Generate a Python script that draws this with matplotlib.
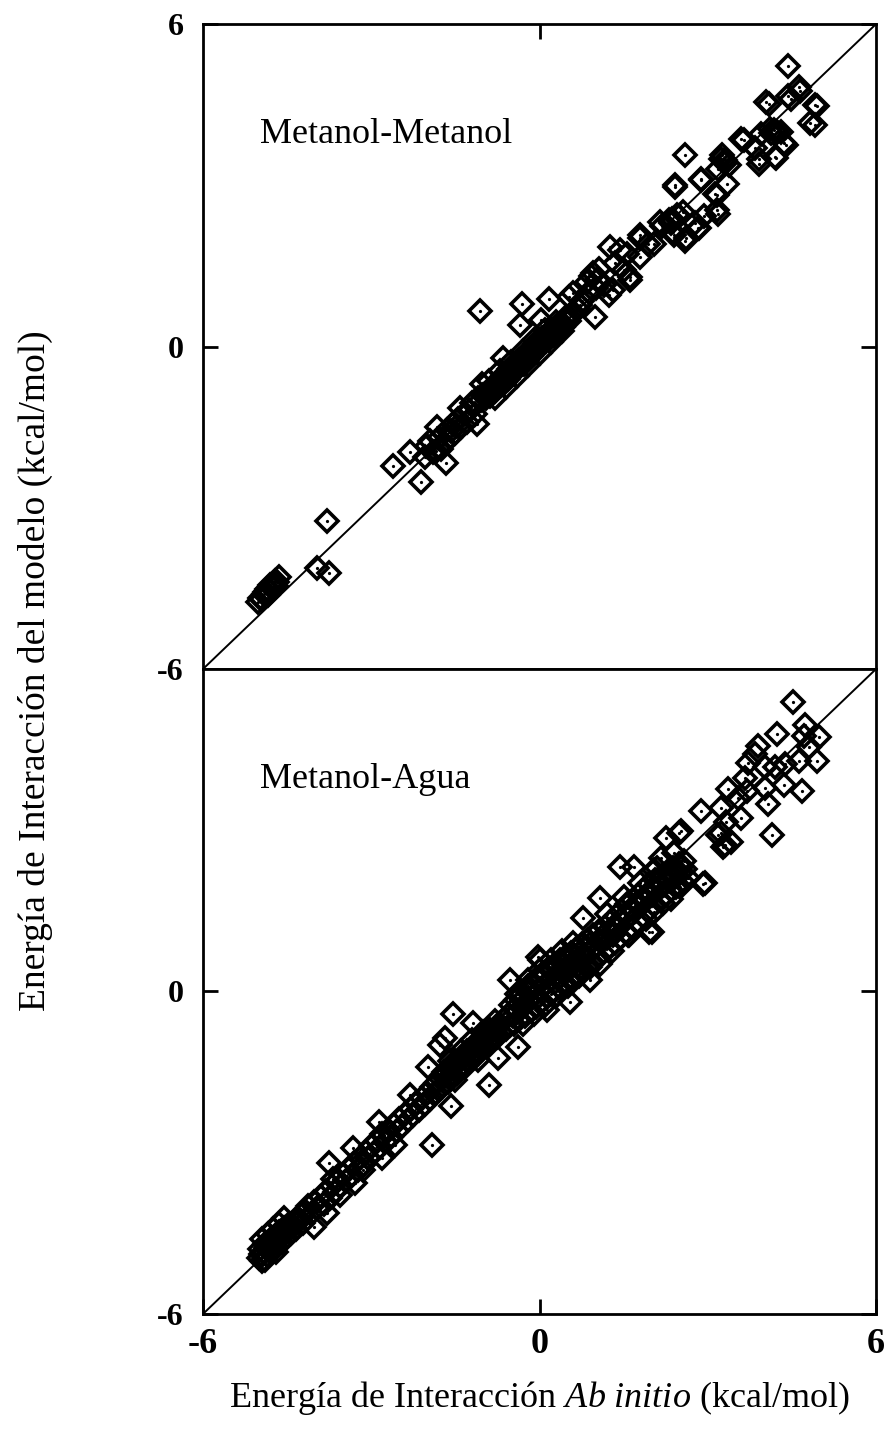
import numpy as np
import matplotlib
matplotlib.use("Agg")
import matplotlib.pyplot as plt

plt.rcParams['font.family'] = ['Liberation Serif', 'DejaVu Serif']
plt.rcParams['mathtext.fontset'] = 'custom'
plt.rcParams['mathtext.rm'] = 'Liberation Serif'
plt.rcParams['mathtext.it'] = 'Liberation Serif:italic'

# Metanol-Metanol: (ab initio, modelo) en kcal/mol
mm_pts = [
    (-1.07, 0.66), (-0.31, 0.79), (-0.35, 0.40), (0.16, 0.88), (0.02, 0.50), (0.52, 0.92),
    (-0.65, -0.22), (-1.03, -0.69), (-1.42, -1.14), (-1.82, -1.50), (-1.12, -1.45),
    (-2.31, -1.97), (-2.61, -2.22), (-2.12, -2.53), (-1.67, -2.17), (-1.90, -1.97),
    (-3.79, -3.25), (-3.97, -4.13), (-3.75, -4.22),
    (-4.64, -4.29), (-4.72, -4.36), (-4.80, -4.44), (-4.86, -4.52), (-4.92, -4.60),
    (-5.02, -4.76), (-4.95, -4.70), (-4.70, -4.45), (-4.85, -4.62), (-4.76, -4.48),
    (-4.68, -4.38), (-4.90, -4.56), (-4.98, -4.68),
    (-2.00, -1.85), (-1.95, -1.75), (-1.80, -1.70), (-1.75, -1.90), (-1.65, -1.55),
    (-1.60, -1.70), (-1.55, -1.45), (-1.50, -1.60), (-1.45, -1.35), (-1.40, -1.50),
    (-1.35, -1.25), (-1.30, -1.40), (-1.25, -1.20), (-1.20, -1.05), (-1.15, -1.25),
    (-1.85, -1.95), (-1.70, -1.80), (-2.05, -2.05), (-1.58, -1.58), (-1.48, -1.48),
    (-1.10, -0.95), (-1.05, -1.00), (-1.00, -0.90), (-0.95, -0.95), (-0.90, -0.80),
    (-0.88, -0.92), (-0.85, -0.75), (-0.80, -0.82), (-0.78, -0.68), (-0.75, -0.78),
    (-0.70, -0.62), (-0.68, -0.72), (-0.65, -0.55), (-0.62, -0.66), (-0.60, -0.50),
    (-0.56, -0.60), (-0.55, -0.42), (-0.50, -0.52), (-0.48, -0.38), (-0.45, -0.46),
    (-0.42, -0.30), (-0.40, -0.42), (-0.36, -0.25), (-0.35, -0.36), (-0.30, -0.20),
    (-0.28, -0.32), (-0.25, -0.15), (-0.22, -0.26), (-0.20, -0.08), (-0.16, -0.18),
    (-0.14, -0.02), (-0.10, -0.12), (-0.08, 0.05), (-0.05, -0.04), (-0.02, 0.10),
    (0.00, 0.02), (0.04, 0.15), (0.06, 0.06), (0.10, 0.20), (0.12, 0.10), (0.16, 0.25),
    (0.18, 0.16), (0.22, 0.30), (0.25, 0.22), (0.30, 0.36), (0.32, 0.28), (0.38, 0.42),
    (0.42, 0.36), (0.46, 0.50), (0.52, 0.48), (0.56, 0.60), (0.62, 0.62), (0.68, 0.70),
    (-0.92, -0.86), (-0.82, -0.74), (-0.72, -0.66), (-0.62, -0.58), (-0.52, -0.46),
    (-0.42, -0.36), (-0.32, -0.26), (-0.22, -0.16), (-0.12, -0.06), (-0.02, 0.04),
    (0.08, 0.14), (0.20, 0.24), (0.34, 0.34), (0.48, 0.54),
    (-0.90, -0.65), (-0.70, -0.45), (-0.50, -0.28), (-0.30, -0.08), (-0.10, 0.12),
    (0.10, 0.30), (0.30, 0.46), (-0.80, -0.95), (-0.60, -0.75), (-0.40, -0.55),
    (-0.20, -0.35), (0.00, -0.12), (0.20, 0.08), (0.40, 0.28),
    (0.60, 0.99), (0.99, 0.55), (1.02, 1.24), (0.85, 1.20), (0.92, 1.32), (1.00, 1.08),
    (0.88, 1.02), (1.06, 1.45), (0.76, 0.85), (1.24, 0.96), (1.31, 1.05), (1.26, 1.86),
    (1.44, 1.80), (1.61, 1.30), (1.50, 1.42), (1.56, 1.73), (1.62, 1.23), (0.96, 1.37),
    (1.15, 1.15), (1.35, 1.55), (0.72, 0.78),
    (1.79, 2.07), (1.79, 1.67), (1.80, 2.02), (1.93, 1.91), (2.04, 1.91), (2.15, 2.32),
    (2.19, 2.24), (2.34, 2.30), (2.40, 2.08), (2.49, 2.43), (2.45, 2.45), (2.38, 2.14),
    (2.36, 2.37), (2.60, 1.96), (2.62, 2.01), (2.84, 2.20), (2.77, 2.29), (2.82, 2.21),
    (2.94, 2.43), (3.16, 2.54), (3.19, 2.46), (2.42, 3.00), (2.41, 2.96), (2.60, 3.56),
    (2.88, 3.12), (2.88, 3.09), (3.12, 2.83), (3.16, 2.81), (3.34, 3.03), (3.23, 3.49),
    (3.25, 3.56), (3.37, 3.37), (3.19, 3.31), (3.31, 3.47), (3.30, 3.42), (2.55, 2.50),
    (2.30, 2.35),
    (3.59, 3.87), (3.64, 3.84), (3.85, 3.69), (3.91, 3.40), (3.92, 3.49), (3.95, 3.95),
    (4.03, 4.55), (4.09, 4.51), (4.11, 4.04), (4.12, 3.97), (4.19, 3.53), (4.21, 3.50),
    (4.24, 4.00), (4.35, 3.78), (4.39, 3.75), (4.43, 5.22), (4.49, 4.60), (4.43, 4.66),
    (4.63, 4.83), (4.65, 4.76), (4.91, 4.49), (4.94, 4.47), (4.82, 4.16), (4.92, 4.13),
    (4.30, 4.00), (4.18, 4.02),
]

# Metanol-Agua: banda densa a lo largo de la diagonal
ma_band = [
    (-5.00, -4.95), (-4.98, -4.80), (-4.95, -5.02), (-4.92, -4.85), (-4.90, -4.70),
    (-4.86, -4.90), (-4.84, -4.75), (-4.80, -4.62), (-4.78, -4.84), (-4.75, -4.70),
    (-4.72, -4.55), (-4.70, -4.76), (-4.66, -4.60), (-4.64, -4.48), (-4.60, -4.66),
    (-4.58, -4.52), (-4.55, -4.40), (-4.52, -4.58), (-4.50, -4.45), (-4.46, -4.32),
    (-4.44, -4.50), (-4.40, -4.36), (-4.36, -4.25), (-4.34, -4.42), (-4.30, -4.28),
    (-4.26, -4.15), (-4.22, -4.30), (-4.18, -4.08),
    (-4.96, -4.88), (-4.88, -4.78), (-4.82, -4.70), (-4.74, -4.62), (-4.68, -4.66),
    (-4.62, -4.55), (-4.56, -4.48), (-4.48, -4.40), (-4.42, -4.34),
    (-4.95, -4.60), (-4.85, -4.52), (-4.75, -4.42), (-4.65, -4.32), (-4.55, -4.22),
    (-4.90, -5.00), (-4.70, -4.85),
    (-4.12, -4.00), (-4.08, -4.14), (-4.02, -3.92), (-3.96, -4.02), (-3.90, -3.82),
    (-3.85, -3.95), (-3.80, -3.72), (-3.74, -3.84), (-3.70, -3.62), (-3.64, -3.74),
    (-3.60, -3.50), (-3.55, -3.62), (-3.50, -3.42), (-3.45, -3.52), (-3.40, -3.30),
    (-3.35, -3.42), (-3.30, -3.20), (-3.24, -3.32), (-3.20, -3.10), (-3.14, -3.22),
    (-3.10, -2.98), (-3.05, -3.10), (-3.00, -2.88), (-2.95, -3.00), (-2.90, -2.78),
    (-2.84, -2.90), (-2.80, -2.66), (-2.75, -2.80), (-2.70, -2.58), (-2.64, -2.70),
    (-2.60, -2.48), (-2.55, -2.60), (-2.50, -2.38), (-2.45, -2.50), (-2.40, -2.28),
    (-2.35, -2.40), (-2.30, -2.18), (-2.25, -2.30), (-2.20, -2.08), (-2.15, -2.20),
    (-2.10, -1.98), (-2.05, -2.10),
    (-2.00, -1.88), (-1.96, -2.00), (-1.92, -1.78), (-1.88, -1.90), (-1.84, -1.70),
    (-1.80, -1.84), (-1.76, -1.62), (-1.72, -1.76), (-1.68, -1.55), (-1.64, -1.68),
    (-1.60, -1.45), (-1.56, -1.60), (-1.52, -1.38), (-1.48, -1.52), (-1.44, -1.30),
    (-1.40, -1.44), (-1.36, -1.22), (-1.32, -1.38), (-1.28, -1.15), (-1.24, -1.30),
    (-1.20, -1.05), (-1.16, -1.22), (-1.12, -0.98), (-1.08, -1.14), (-1.04, -0.90),
    (-1.00, -1.06), (-0.96, -0.84), (-0.92, -0.98), (-0.88, -0.76), (-0.84, -0.92),
    (-0.80, -0.68), (-0.76, -0.84), (-0.72, -0.60), (-0.68, -0.76), (-0.64, -0.52),
    (-0.60, -0.70), (-0.56, -0.45), (-0.52, -0.62),
    (-1.70, -1.50), (-1.50, -1.30), (-1.30, -1.10), (-1.10, -0.92), (-0.90, -0.70),
    (-1.62, -1.60), (-1.42, -1.40), (-1.22, -1.20), (-1.02, -1.00), (-0.82, -0.80),
    (-1.60, -1.30), (-1.40, -1.10), (-1.20, -0.90), (-1.00, -0.75), (-0.80, -0.55),
    (-1.50, -1.65), (-1.10, -1.28),
    (-0.50, -0.25), (-0.48, -0.45), (-0.45, -0.60), (-0.42, -0.15), (-0.40, -0.38),
    (-0.36, -0.52), (-0.34, -0.08), (-0.30, -0.28), (-0.26, -0.45), (-0.24, 0.02),
    (-0.20, -0.18), (-0.16, -0.36), (-0.14, 0.12), (-0.10, -0.08), (-0.06, -0.28),
    (-0.04, 0.25), (0.00, 0.05), (0.04, -0.18), (0.06, 0.35), (0.10, 0.12), (0.14, -0.10),
    (0.16, 0.42), (0.20, 0.22), (0.24, 0.00), (0.26, 0.50), (0.30, 0.30), (0.34, 0.08),
    (0.36, 0.58), (0.40, 0.38), (0.44, 0.15), (0.46, 0.65), (0.50, 0.45), (0.54, 0.22),
    (0.56, 0.72), (0.60, 0.52), (0.64, 0.30), (0.66, 0.80), (0.70, 0.60), (0.74, 0.38),
    (0.76, 0.88), (0.80, 0.68), (0.84, 0.46), (0.86, 0.96), (0.90, 0.76), (0.94, 0.55),
    (0.96, 1.05), (1.00, 0.85), (0.20, -0.05), (-0.20, 0.10),
    (-0.44, -0.30), (-0.32, -0.16), (-0.18, -0.02), (-0.08, 0.12), (0.02, 0.24),
    (0.12, 0.30), (0.22, 0.40), (0.32, 0.46), (0.42, 0.52), (0.52, 0.60), (0.62, 0.68),
    (0.72, 0.74), (0.82, 0.82), (0.92, 0.90), (0.28, 0.18), (0.48, 0.36), (0.68, 0.50),
    (-0.40, -0.05), (-0.20, 0.22), (0.00, 0.40), (0.20, 0.58), (0.40, 0.75), (0.60, 0.90),
    (-0.30, -0.60), (-0.10, -0.42), (0.10, -0.25), (0.30, -0.08), (0.50, 0.10),
    (0.70, 0.28), (0.90, 0.45),
    (1.04, 0.64), (1.06, 1.12), (1.10, 0.92), (1.14, 0.72), (1.16, 1.20), (1.20, 1.00),
    (1.24, 0.80), (1.26, 1.30), (1.30, 1.10), (1.34, 0.90), (1.36, 1.40), (1.40, 1.20),
    (1.44, 1.00), (1.46, 1.50), (1.50, 1.30), (1.54, 1.10), (1.56, 1.62), (1.60, 1.40),
    (1.64, 1.20), (1.66, 1.70), (1.70, 1.50), (1.74, 1.30), (1.76, 1.80), (1.80, 1.60),
    (1.84, 1.40), (1.86, 1.90), (1.90, 1.70), (1.94, 1.50), (1.96, 2.00), (2.00, 1.80),
    (2.04, 1.60), (2.06, 2.08), (2.10, 1.90), (2.14, 1.70), (2.18, 2.15), (2.20, 1.98),
    (2.24, 1.78), (2.28, 2.22), (2.30, 2.05), (2.34, 1.88), (2.38, 2.30), (2.40, 2.12),
    (2.44, 1.95), (2.48, 2.38), (2.50, 2.20), (2.54, 2.05), (2.58, 2.42), (2.60, 2.28),
    (2.64, 2.12),
    (1.12, 1.02), (1.32, 1.22), (1.52, 1.42), (1.72, 1.62), (1.92, 1.82), (2.12, 2.02),
    (2.32, 2.20), (2.52, 2.32),
    (1.20, 1.45), (1.50, 1.75), (1.80, 2.02), (2.10, 2.30), (1.30, 0.75), (1.60, 1.05),
    (1.90, 1.35), (2.20, 1.65), (2.50, 1.95),
]

# Metanol-Agua: puntos dispersos
ma_scatter = [
    (4.52, 5.39), (4.74, 4.95), (4.71, 4.76), (4.98, 4.73), (4.95, 4.29), (4.80, 4.54),
    (4.23, 4.79), (3.90, 4.57), (3.84, 4.42), (3.72, 4.26), (4.02, 4.17), (4.20, 4.17),
    (4.38, 4.23), (4.62, 4.29), (4.35, 3.85), (4.68, 3.73), (4.08, 3.48), (4.02, 3.79),
    (4.14, 2.91), (3.66, 3.98), (3.69, 3.73), (3.36, 3.76), (3.54, 3.60), (3.60, 3.23),
    (3.24, 3.41), (3.33, 3.16), (3.18, 2.91), (3.30, 2.72), (3.42, 2.79), (3.23, 2.95),
    (3.27, 2.69), (2.88, 3.35), (2.49, 2.95), (2.25, 2.86), (2.52, 2.99), (2.16, 2.48),
    (2.40, 2.57), (2.91, 2.00), (2.95, 2.02), (2.04, 2.26), (1.68, 2.32), (1.44, 2.32),
    (2.34, 1.72), (2.04, 1.47), (2.01, 1.10), (1.96, 1.11), (1.58, 1.05), (1.31, 1.05),
    (1.08, 0.52), (0.78, 1.36), (1.08, 1.73), (0.54, -0.19), (0.90, 0.21), (0.13, -0.34),
    (-0.02, 0.65), (0.01, 0.58), (-0.53, 0.21), (-0.38, -1.03), (-0.74, -1.24),
    (-0.91, -1.74), (-1.54, -0.41), (-1.18, -0.59), (-1.77, -1.00), (-1.68, -0.87),
    (-1.98, -1.40), (-1.57, -2.14), (-1.92, -2.86), (-2.31, -1.92), (-2.87, -2.42),
    (-2.78, -2.67), (-2.58, -2.86), (-2.81, -3.10), (-3.32, -2.92), (-3.29, -3.57),
    (-3.76, -3.20), (-3.56, -3.79), (-3.79, -4.13), (-4.03, -4.38), (-3.14, -3.33),
    (-3.68, -3.49),
]

panel_names = ["Metanol-Metanol", "Metanol-Agua"]
lim = 6

fig = plt.figure(figsize=(8.85, 14.31), dpi=100)
ax_top = fig.add_axes([0.2294, 0.5325, 0.7605, 0.4507])
ax_bot = fig.add_axes([0.2294, 0.0818, 0.7605, 0.4507])

mm = np.array(mm_pts)
ma = np.array(ma_band + ma_scatter)

for ax, data, name in [(ax_top, mm, panel_names[0]), (ax_bot, ma, panel_names[1])]:
    ax.plot([-lim, lim], [-lim, lim], color="black", lw=1.4, zorder=1)
    ax.plot(data[:, 0], data[:, 1], ls="none", marker="D", ms=11,
            mfc="none", mec="black", mew=2.6, zorder=2)
    ax.plot(data[:, 0], data[:, 1], ls="none", marker="o", ms=1.3,
            color="black", zorder=2)
    ax.set_xlim(-lim, lim)
    ax.set_ylim(-lim, lim)
    for s in ax.spines.values():
        s.set_linewidth(2.0)
    ax.tick_params(direction="in", length=11, width=2.0, labelsize=23, pad=14)
    ax.text(-4.98, 3.95, name, fontsize=26, va="center", ha="left")

# panel superior
ax_top.set_yticks([-6, 0, 6])
ax_top.set_yticklabels(["-6", "0", "6"], fontweight="bold")
ax_top.tick_params(axis="y", left=True, right=True)
ax_top.set_xticks([0])
ax_top.tick_params(axis="x", bottom=False, top=True, labelbottom=False)

# panel inferior
ax_bot.set_yticks([-6, 0])
ax_bot.set_yticklabels(["-6", "0"], fontweight="bold")
ax_bot.tick_params(axis="y", left=True, right=True)
ax_bot.set_xticks([-6, 0, 6])
ax_bot.set_xticklabels(["-6", "0", "6"], fontweight="bold", fontsize=26)
ax_bot.tick_params(axis="x", bottom=True, top=False, pad=10)

fig.text(0.610, 0.023, "Energía de Interacción $\\mathit{Ab\\ initio}$ (kcal/mol)",
         fontsize=26, ha="center", va="center")
fig.text(0.04, 0.531, "Energía de Interacción del modelo (kcal/mol)",
         fontsize=27, ha="center", va="center", rotation=90)

fig.savefig("out.png", dpi=100)
